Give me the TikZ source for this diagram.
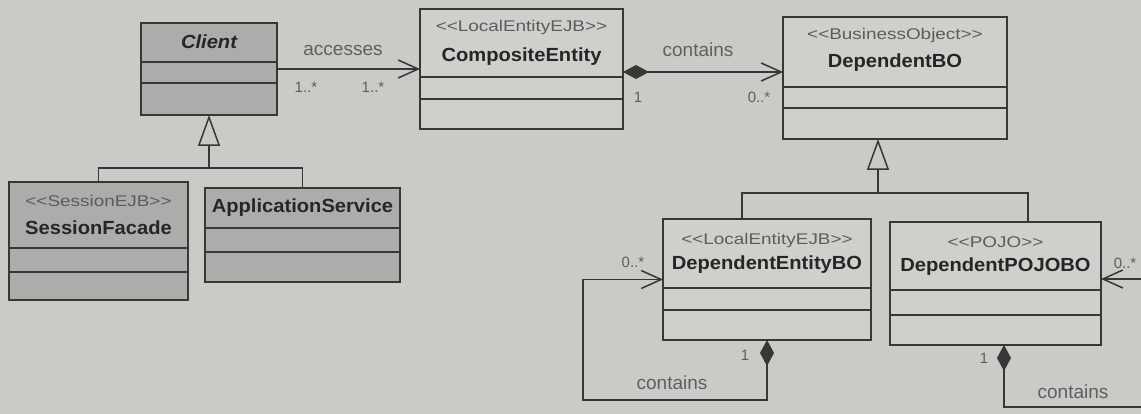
\documentclass[tikz,border=0pt]{standalone}
\usepackage{fontspec}
\setmainfont{Liberation Sans}
\newfontfamily\namefont[FakeStretch=1.06]{Liberation Sans}
\newfontfamily\stereofont[FakeStretch=1.22]{Liberation Sans}
\usetikzlibrary{arrows.meta}

\definecolor{paper}{RGB}{200,203,198}
\definecolor{boxfill}{RGB}{205,208,203}
\definecolor{shade}{RGB}{170,173,169}
\definecolor{ink}{RGB}{55,55,55}
\definecolor{nametext}{RGB}{38,38,38}
\definecolor{stereotext}{RGB}{92,92,92}
\definecolor{labeltext}{RGB}{95,95,95}

% class box: name, fill, x1, y1, x2, y2, first divider, second divider
\newcommand\umlbox[8]{%
  \node[classbox, fill=#2, anchor=north west,
        minimum width={(#5-#3)*1pt}, minimum height={(#6-#4)*1pt}] (#1) at (#3,#4) {};
  \draw[divider] (#3,#7) -- (#5,#7);
  \draw[divider] (#3,#8) -- (#5,#8);
}

\begin{document}
\begin{tikzpicture}[x=1pt,y=-1pt,
  classbox/.style={draw=ink, line width=1.7pt, inner sep=0pt, outer sep=0pt, rectangle},
  divider/.style={draw=ink, line width=1.5pt},
  nm/.style={font=\namefont\bfseries\fontsize{19}{22}\selectfont, text=nametext, inner sep=0pt},
  st/.style={font=\stereofont\fontsize{15.5}{18}\selectfont, text=stereotext, inner sep=0pt},
  lbl/.style={font=\fontsize{19}{22}\selectfont, text=labeltext, inner sep=0pt},
  mult/.style={font=\fontsize{15}{17}\selectfont, text=labeltext, inner sep=0pt},
  assoc/.style={draw=ink, line width=1.5pt},
  nav/.style={assoc, -{Straight Barb[length=20pt,width=18pt,line width=1.5pt]}},
  comp/.style={assoc, {Diamond[length=26pt,width=14pt,fill=ink]}-},
  compnav/.style={assoc, {Diamond[length=26pt,width=14pt,fill=ink]}-{Straight Barb[length=20pt,width=18pt,line width=1.5pt]}},
  gen/.style={assoc, -{Triangle[open,length=31pt,width=22pt,line width=1.5pt]}}
]
\useasboundingbox[fill=paper] (0,0) rectangle (1141,414);

% classes
\umlbox{client}{shade}{141}{23}{277}{115}{62}{83}
\node[nm, font=\namefont\bfseries\itshape\fontsize{19}{22}\selectfont] (clientname) at (209,42) {Client};

\umlbox{composite}{boxfill}{420}{9}{623}{129}{77}{99}
\node[st] (compositest) at (521.5,27) {<<LocalEntityEJB>>};
\node[nm] (compositename) at (521.5,57) {CompositeEntity};

\umlbox{dbo}{boxfill}{783}{17}{1007}{139}{87}{108}
\node[st] (dbost) at (895,35) {<<BusinessObject>>};
\node[nm] (dboname) at (895,63) {DependentBO};

\umlbox{sf}{shade}{9}{182}{188}{300}{248}{272}
\node[st] (sfst) at (98.5,201) {<<SessionEJB>>};
\node[nm] (sfname) at (98.5,228) {SessionFacade};

\umlbox{as}{shade}{205}{188}{400}{282}{228}{252}
\node[nm] (asname) at (302.5,208) {ApplicationService};

\umlbox{dent}{boxfill}{663}{219}{871}{340}{288}{310}
\node[st] (dentst) at (767,240) {<<LocalEntityEJB>>};
\node[nm] (dentname) at (767,265) {DependentEntityBO};

\umlbox{dpojo}{boxfill}{890}{222}{1101}{345}{290}{315}
\node[st] (dpojost) at (995.5,242) {<<POJO>>};
\node[nm] (dpojoname) at (995.5,267) {DependentPOJOBO};

% Client accesses CompositeEntity
\draw[nav] (client.east) -- (composite.west);
\node[lbl] (accesses) at (343,50) {accesses};
\node[mult] (m1) at (306,87) {1..*};
\node[mult] (m2) at (373,87) {1..*};

% CompositeEntity contains DependentBO
\coordinate (cc) at ([yshift=-3pt]composite.east);
\draw[compnav] (cc) -- (cc -| dbo.west);
\node[lbl] (contains1) at (698,50) {contains};
\node[mult] (m3) at (638,97) {1};
\node[mult] (m4) at (759,97) {0..*};

% generalization of Client
\coordinate (cjoin) at (209,168);
\draw[assoc] (sf.north) |- (cjoin) -| (as.north);
\draw[gen] (cjoin) -- (client.south);

% generalization of DependentBO
\coordinate (bjoin) at (878,193);
\draw[assoc] ([xshift=-25pt]dent.north) |- (bjoin) -| ([xshift=32.5pt]dpojo.north);
\draw[gen] (bjoin) -- (bjoin |- dbo.south);

% DependentEntityBO contains itself
\coordinate (eloop) at (583,400);
\draw[compnav] (dent.south) |- (eloop) |- (dent.west);
\node[mult] (m5) at (633,262) {0..*};
\node[mult] (m6) at (745,355) {1};
\node[lbl] (contains2) at (672,383) {contains};

% DependentPOJOBO contains itself
\coordinate (pend) at (1141,407);
\coordinate (pin) at (1141,279);
\draw[comp] ([xshift=8.5pt]dpojo.south) |- (pend);
\draw[nav] (pin) -- (pin -| dpojo.east);
\node[mult] (m7) at (1125,263) {0..*};
\node[mult] (m8) at (984,358) {1};
\node[lbl] (contains3) at (1073,392) {contains};
\end{tikzpicture}
\end{document}
